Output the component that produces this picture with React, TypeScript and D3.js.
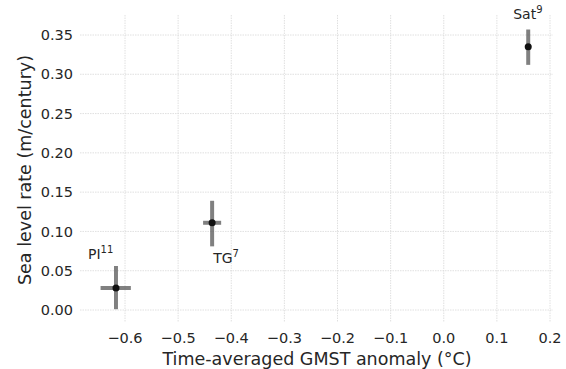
import React, { useRef, useEffect } from "react";
import * as d3 from "d3";

const names = ["PI", "TG", "Sat"];
const refs = ["11", "7", "9"];
const xValues = [-0.617, -0.436, 0.159];
const xLow = [-0.646, -0.453, 0.157];
const xHigh = [-0.589, -0.419, 0.161];
const yValues = [0.028, 0.111, 0.335];
const yLow = [0.001, 0.081, 0.312];
const yHigh = [0.056, 0.139, 0.357];
const xTicks = [-0.6, -0.5, -0.4, -0.3, -0.2, -0.1, 0.0, 0.1, 0.2];
const yTicks = [0, 0.05, 0.1, 0.15, 0.2, 0.25, 0.3, 0.35];

const App = () => {
    const ref = useRef<SVGSVGElement | null>(null);

    useEffect(() => {
        const left = 80, right = 553, top = 15, bottom = 322;

        const svg = d3.select(ref.current);
        svg.selectAll("*").remove();
        svg.style("font-family", "DejaVu Sans");

        const x = d3.scaleLinear().domain([-0.6, 0.2]).range([125, 550]);
        const y = d3.scaleLinear().domain([0, 0.35]).range([310, 35]);

        // grid
        svg.append("g")
            .selectAll("line")
            .data(xTicks)
            .join("line")
            .attr("x1", (d) => x(d))
            .attr("x2", (d) => x(d))
            .attr("y1", top)
            .attr("y2", bottom)
            .attr("stroke", "#d8d8d8")
            .attr("stroke-width", 0.8)
            .attr("stroke-dasharray", "1.5,1");
        svg.append("g")
            .selectAll("line")
            .data(yTicks)
            .join("line")
            .attr("x1", left)
            .attr("x2", right)
            .attr("y1", (d) => y(d))
            .attr("y2", (d) => y(d))
            .attr("stroke", "#d8d8d8")
            .attr("stroke-width", 0.8)
            .attr("stroke-dasharray", "1.5,1");

        // tick labels
        svg.append("g")
            .selectAll("text")
            .data(xTicks)
            .join("text")
            .attr("x", (d) => x(d))
            .attr("y", 343)
            .attr("text-anchor", "middle")
            .attr("font-size", 14.5)
            .attr("fill", "#262626")
            .text((d) => d3.format(".1f")(d).replace("-", "\u2212"));
        svg.append("g")
            .selectAll("text")
            .data(yTicks)
            .join("text")
            .attr("x", 73)
            .attr("y", (d) => y(d))
            .attr("dy", "0.35em")
            .attr("text-anchor", "end")
            .attr("font-size", 14.5)
            .attr("fill", "#262626")
            .text((d) => d3.format(".2f")(d));

        // axis labels
        svg.append("text")
            .attr("x", 317)
            .attr("y", 365)
            .attr("text-anchor", "middle")
            .attr("font-size", 17.5)
            .attr("fill", "#262626")
            .text("Time-averaged GMST anomaly (°C)");
        svg.append("text")
            .attr("transform", `translate(31,170) rotate(-90)`)
            .attr("text-anchor", "middle")
            .attr("font-size", 17.5)
            .attr("fill", "#262626")
            .text("Sea level rate (m/century)");

        // error bars
        const idx = d3.range(names.length);
        const eb = svg.append("g").attr("stroke", "#555").attr("stroke-opacity", 0.75).attr("stroke-width", 4);
        eb.selectAll(".v")
            .data(idx)
            .join("line")
            .attr("x1", (i) => x(xValues[i]))
            .attr("x2", (i) => x(xValues[i]))
            .attr("y1", (i) => y(yLow[i]))
            .attr("y2", (i) => y(yHigh[i]));
        eb.selectAll(".h")
            .data(idx)
            .join("line")
            .attr("x1", (i) => x(xLow[i]))
            .attr("x2", (i) => x(xHigh[i]))
            .attr("y1", (i) => y(yValues[i]))
            .attr("y2", (i) => y(yValues[i]));

        svg.append("g")
            .selectAll("circle")
            .data(idx)
            .join("circle")
            .attr("cx", (i) => x(xValues[i]))
            .attr("cy", (i) => y(yValues[i]))
            .attr("r", 3.5)
            .attr("fill", "#111");

        // labels
        const labelPos = [
            { dx: -28, dy: -29 },
            { dx: 1, dy: 40 },
            { dx: -15, dy: -28 },
        ];
        const lab = svg.append("g")
            .selectAll("text")
            .data(idx)
            .join("text")
            .attr("x", (i) => x(xValues[i]) + labelPos[i].dx)
            .attr("y", (i) => y(yValues[i]) + labelPos[i].dy)
            .attr("font-size", 14)
            .attr("fill", "#262626");
        lab.append("tspan").text((i) => names[i]);
        lab.append("tspan")
            .attr("font-size", 10)
            .attr("dy", -6)
            .text((i) => refs[i]);
    }, []);

    return (
        <svg ref={ref} width={566} height={369} viewBox="0 0 566 369"
            style={{ position: "absolute", left: 0, top: 0, background: "#fff" }} />
    );
};

export default App;
